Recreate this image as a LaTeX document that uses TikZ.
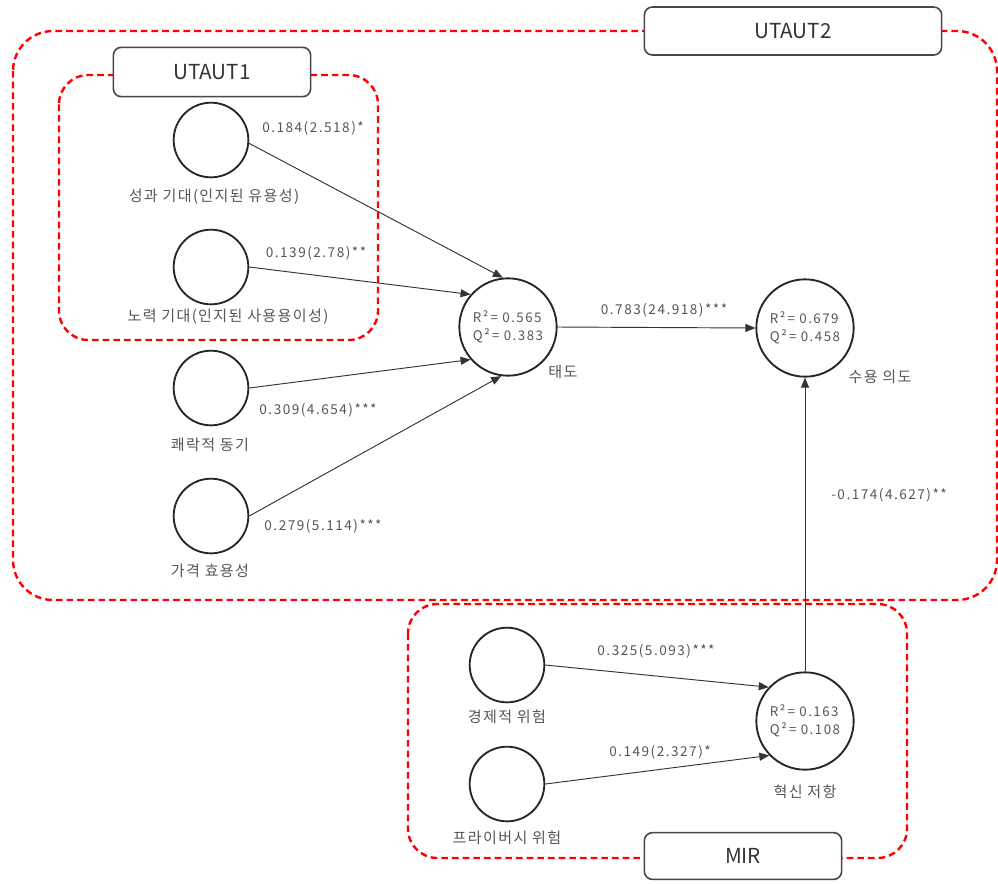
\documentclass[tikz,border=0pt]{standalone}
\usepackage{fontspec}
\setmainfont{Noto Sans CJK KR}
\newfontfamily\numfont[LetterSpace=11]{Noto Sans CJK KR}
\newfontfamily\lblfont[LetterSpace=9]{Noto Sans CJK KR}
\usetikzlibrary{arrows.meta}
\definecolor{txtgray}{HTML}{555555}
\definecolor{boxgray}{HTML}{333333}
\begin{document}
\begin{tikzpicture}[x=0.75pt,y=-0.75pt,
  groupbox/.style={draw=red, line width=1.8pt, dash pattern=on 5pt off 3pt, rounded corners=22pt},
  titlebox/.style={draw=boxgray!90, line width=1.2pt, fill=white, rounded corners=6pt, inner sep=0pt, font=\fontsize{15.5}{18}\selectfont, text=boxgray},
  latent/.style={draw=black!85, line width=1.4pt, circle, inner sep=0pt, minimum size=56pt},
  bigl/.style={draw=black!85, line width=1.4pt, circle, inner sep=0pt, minimum size=73pt, font=\numfont\fontsize{10}{13.5}\selectfont, text=txtgray, align=left},
  lbl/.style={font=\lblfont\fontsize{11.3}{13}\selectfont, text=txtgray, inner sep=0pt},
  coef/.style={font=\numfont\fontsize{10.2}{12}\selectfont, text=txtgray, inner sep=0pt},
  path/.style={draw=black!80, line width=0.7pt, -{Triangle[length=7.5pt,width=6pt]}}
]
\useasboundingbox (0,0) rectangle (998,883);

% group boxes
\draw[groupbox, rounded corners=30pt] (13,31) rectangle (997,600);
\draw[groupbox] (59,75) rectangle (378,340);
\draw[groupbox] (408,604) rectangle (907,858);

\node[titlebox, minimum width=223pt, minimum height=36pt] (t2) at (793,31) {UTAUT2};
\node[titlebox, minimum width=148pt, minimum height=37pt] (t1) at (212,72) {UTAUT1};
\node[titlebox, minimum width=148pt, minimum height=35pt] (tm) at (743,856) {MIR};

% latent variables
\node[latent] (pe) at (211,140) {};
\node[latent] (ee) at (211,267) {};
\node[latent] (hm) at (211,388) {};
\node[latent] (pv) at (211,516) {};
\node[latent] (er) at (507,665) {};
\node[latent] (pr) at (507,784) {};
\node[bigl] (att) at (508,327) {R²\,=\,\,0.565\\Q²\,=\,\,0.383};
\node[bigl] (bi) at (805,328) {R²\,=\,\,0.679\\Q²\,=\,\,0.458};
\node[bigl] (ir) at (805,721) {R²\,=\,\,0.163\\Q²\,=\,\,0.108};

% labels
\node[lbl] (lpe) at (214,197) {성과 기대(인지된 유용성)};
\node[lbl] (lee) at (228,317) {노력 기대(인지된 사용용이성)};
\node[lbl] (lhm) at (210,445) {쾌락적 동기};
\node[lbl] (lpv) at (210,571) {가격 효용성};
\node[lbl] (latt) at (563,372) {태도};
\node[lbl] (lbi) at (880,377) {수용 의도};
\node[lbl] (ler) at (507,717) {경제적 위험};
\node[lbl] (lpr) at (507,838) {프라이버시 위험};
\node[lbl] (lir) at (805,792) {혁신 저항};

% coefficients
\node[coef] (c1) at (313,128) {0.184(2.518)*};
\node[coef] (c2) at (316,253) {0.139(2.78)**};
\node[coef] (c3) at (318,410) {0.309(4.654)***};
\node[coef] (c4) at (323,526) {0.279(5.114)***};
\node[coef] (c5) at (664,310) {0.783(24.918)***};
\node[coef] (c6) at (889,495) {-0.174(4.627)**};
\node[coef] (c7) at (656,651) {0.325(5.093)***};
\node[coef] (c8) at (660,752) {0.149(2.327)*};

% paths
\draw[path] (pe.-5) -- (att.96);
\draw[path] (ee.east) -- (att.139);
\draw[path] (hm.east) -- (att.221);
\draw[path] (pv.east) -- (att.262);
\draw[path] (att.east) -- (bi.west);
\draw[path] (ir.north) -- (bi.south);
\draw[path] (er.east) -- (ir.137);
\draw[path] (pr.east) -- (ir.224);
\end{tikzpicture}
\end{document}
